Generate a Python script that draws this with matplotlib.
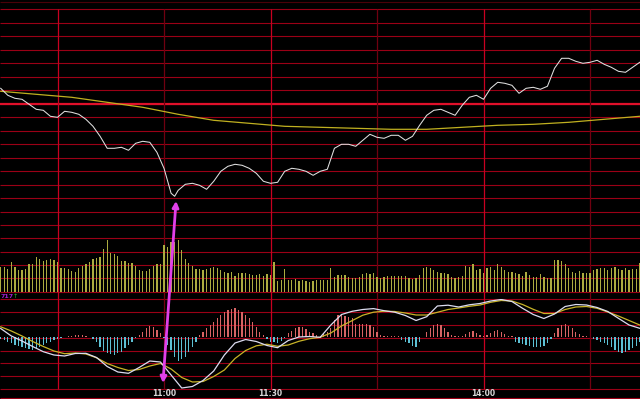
import numpy as np
import matplotlib
matplotlib.use('Agg')
from matplotlib import pyplot as plt
from matplotlib.patches import ConnectionPatch

# minute index 0 = 10:14, one bar per minute (16 -> 10:30, 46 -> 11:00 ...)
TIME_LABELS = ['11:00', '11:30', '14:00']
TIME_LABEL_MIN = [46, 76, 136]
BRIGHT_VLINES = [16, 76, 136]
DIM_VLINES = [46, 106, 166]

PREV_CLOSE = 10.00

price_min = list(range(0, 49, 2)) + [49] + list(range(50, 181, 2))
price = [10.15, 10.08, 10.05, 10.04, 9.99, 9.94, 9.93, 9.87, 9.86, 9.92,
         9.91, 9.89, 9.84, 9.77, 9.67, 9.55, 9.55, 9.56, 9.53, 9.60,
         9.62, 9.61, 9.51, 9.35, 9.10, 9.07, 9.13, 9.19, 9.20, 9.18,
         9.14, 9.22, 9.32, 9.37, 9.39, 9.38, 9.35, 9.30, 9.22, 9.20,
         9.21, 9.32, 9.35, 9.34, 9.32, 9.28, 9.32, 9.34, 9.55, 9.59,
         9.59, 9.57, 9.63, 9.69, 9.66, 9.65, 9.68, 9.68, 9.63, 9.67,
         9.78, 9.88, 9.93, 9.94, 9.91, 9.88, 9.98, 10.06, 10.08, 10.04,
         10.15, 10.21, 10.20, 10.18, 10.10, 10.15, 10.16, 10.14, 10.17, 10.35,
         10.45, 10.45, 10.42, 10.40, 10.41, 10.43, 10.39, 10.36, 10.32, 10.31,
         10.36, 10.41]

avg_min = list(range(0, 181, 10))
avg_price = [10.12, 10.09, 10.06, 10.01, 9.96, 9.89, 9.83, 9.80, 9.77, 9.76,
             9.75, 9.74, 9.74, 9.76, 9.78, 9.79, 9.81, 9.84, 9.87]

volume = [2440, 2500, 2240, 2940, 2500, 2170, 2170, 2240, 2740, 2740,
          3440, 3240, 3070, 3170, 3240, 3170, 3000, 2400, 2340, 2240,
          2070, 1940, 2400, 2570, 2740, 2940, 3240, 3400, 3440, 4270,
          5170, 3900, 3740, 3570, 3100, 3100, 2840, 2840, 2570, 2170,
          2100, 2070, 2240, 2600, 2740, 2820, 4670, 4440, 4970, 5000,
          5170, 4170, 3240, 2900, 2570, 2240, 2240, 2170, 2240, 2340,
          2440, 2340, 2170, 2000, 1840, 1940, 1600, 1900, 1840, 1900,
          1740, 1670, 1670, 1740, 1600, 1770, 1670, 2940, 1070, 1170,
          2240, 1170, 1170, 1270, 1100, 1170, 1070, 1000, 1070, 1170,
          1170, 1170, 1170, 2400, 1440, 1670, 1670, 1670, 1440, 1340,
          1400, 1500, 1770, 1840, 1770, 1840, 1440, 1340, 1440, 1570,
          1570, 1600, 1600, 1570, 1570, 1340, 1270, 1340, 1670, 2340,
          2440, 2400, 2170, 2000, 1900, 1840, 1770, 1440, 1340, 1500,
          1570, 2570, 2500, 2740, 2170, 2240, 1900, 2340, 2500, 2170,
          2740, 2500, 2170, 2000, 2000, 1840, 1770, 1570, 2000, 1670,
          1500, 1500, 1770, 1500, 1400, 1340, 3170, 3170, 3100, 2740,
          2340, 2000, 1900, 2070, 1840, 1840, 1900, 2170, 2240, 2400,
          2340, 2170, 2340, 2500, 2240, 2170, 2340, 2170, 2240, 2240, 2900]

macd_hist = [-0.027, -0.033, -0.050, -0.067, -0.083, -0.093, -0.100, -0.117, -0.127, -0.133,
             -0.117, -0.100, -0.083, -0.067, -0.050, -0.033, -0.027, -0.013, -0.007, 0.003,
             0.007, 0.017, 0.020, 0.017, 0.007, -0.007, -0.027, -0.050, -0.100, -0.140,
             -0.160, -0.173, -0.183, -0.167, -0.150, -0.117, -0.083, -0.050, -0.017, 0.017,
             0.050, 0.083, 0.107, 0.100, 0.067, 0.033, -0.010, -0.083, -0.133, -0.200,
             -0.243, -0.227, -0.200, -0.150, -0.100, -0.050, 0.017, 0.050, 0.083, 0.117,
             0.150, 0.183, 0.217, 0.250, 0.267, 0.277, 0.283, 0.267, 0.250, 0.217,
             0.183, 0.150, 0.100, 0.050, 0.017, -0.027, -0.050, -0.050, -0.060, -0.040,
             -0.017, 0.033, 0.060, 0.083, 0.100, 0.093, 0.073, 0.050, 0.033, 0.017,
             0.010, 0.033, 0.050, 0.083, 0.167, 0.217, 0.217, 0.207, 0.200, 0.183,
             0.127, 0.127, 0.127, 0.127, 0.117, 0.093, 0.050, 0.017, 0.007, 0.007,
             0.007, 0.007, 0.003, -0.033, -0.050, -0.067, -0.093, -0.100, -0.050, -0.003,
             0.050, 0.090, 0.117, 0.127, 0.117, 0.090, 0.050, 0.017, 0.003, 0.007,
             0.007, 0.027, 0.050, 0.060, 0.040, 0.017, 0.003, 0.017, 0.040, 0.060,
             0.067, 0.050, 0.027, 0.010, 0.003, -0.050, -0.067, -0.073, -0.083, -0.093,
             -0.100, -0.100, -0.100, -0.093, -0.067, -0.027, 0.033, 0.083, 0.117, 0.127,
             0.107, 0.083, 0.050, 0.027, 0.007, 0.003, -0.007, -0.027, -0.033, -0.050,
             -0.067, -0.083, -0.107, -0.133, -0.150, -0.160, -0.150, -0.133, -0.117, -0.093, -0.050]

macd_min = list(range(0, 181, 3))
dif = [0.082, 0.007, -0.043, -0.098, -0.150, -0.183, -0.193, -0.168, -0.166, -0.208,
       -0.298, -0.353, -0.366, -0.308, -0.243, -0.253, -0.383, -0.513, -0.498, -0.438,
       -0.343, -0.183, -0.063, -0.028, -0.048, -0.088, -0.110, -0.038, -0.003, 0.002,
       -0.006, 0.117, 0.222, 0.254, 0.272, 0.281, 0.260, 0.245, 0.212, 0.162,
       0.200, 0.307, 0.315, 0.297, 0.319, 0.332, 0.357, 0.372, 0.352, 0.284,
       0.222, 0.182, 0.227, 0.302, 0.322, 0.317, 0.292, 0.252, 0.184, 0.117, 0.084]
dea = [0.099, 0.057, 0.007, -0.048, -0.098, -0.143, -0.170, -0.163, -0.173, -0.211,
       -0.268, -0.308, -0.338, -0.328, -0.293, -0.268, -0.323, -0.408, -0.453, -0.448,
       -0.398, -0.333, -0.218, -0.138, -0.091, -0.075, -0.096, -0.083, -0.046, -0.020,
       -0.006, 0.037, 0.107, 0.161, 0.215, 0.245, 0.255, 0.252, 0.237, 0.217,
       0.217, 0.244, 0.272, 0.287, 0.304, 0.317, 0.344, 0.362, 0.357, 0.322,
       0.274, 0.232, 0.232, 0.272, 0.297, 0.302, 0.284, 0.247, 0.207, 0.162, 0.117]

# arrow drawn on the chart: from the DIF low to the price low
arrow_start = (45.7, -0.463)   # macd panel
arrow_end = (49.4, 9070)       # volume panel (just under price low)

W, H = 640, 399
XLIM = (-0.197, 180.08)
GRID = '#9a0016'

fig = plt.figure(figsize=(6.4, 3.99), dpi=100)
fig.patch.set_facecolor('black')


def panel(top, bottom):
    ax = fig.add_axes([0, (H - bottom) / H, 1, (bottom - top) / H])
    ax.set_facecolor('none')
    ax.set_xlim(*XLIM)
    ax.axis('off')
    return ax


# background grid in pixel rows
bg = panel(0, H)
bg.set_ylim(H, 0)
rows = list(9.3 + 13.5 * np.arange(15)) + list(198.3 + 13.34 * np.arange(1, 8)) \
    + list(299.3 + 12.81 * np.arange(8)) + [398.3]
bg.hlines(rows, *XLIM, colors=GRID, lw=0.8)
bg.hlines([1.5], *XLIM, colors='#4a0008', lw=0.8)
bg.hlines([103.8], *XLIM, colors='#e0102a', lw=1.6)
bg.vlines(BRIGHT_VLINES, 9.3, 389, colors='#c80020', lw=0.9)
bg.vlines(DIM_VLINES, 9.3, 389, colors='#700010', lw=0.9)
for m, lab in zip(TIME_LABEL_MIN, TIME_LABELS):
    bg.text(m, 394, lab, color='#d8d8d8', fontsize=5.5, fontweight='bold',
            ha='center', va='center')
bg.text(0.1, 296, '717', color='#a020d0', fontsize=4.5, fontweight='bold',
        ha='left', va='center')
bg.text(3.4, 296, '\u2191', color='#30c030', fontsize=4.5, ha='left', va='center')

# price panel
ax_p = panel(9.3, 198.3)
ax_p.set_ylim(PREV_CLOSE - 0.95, PREV_CLOSE + 0.94)
ax_p.plot(avg_min, avg_price, color='#c0b020', lw=0.9)
ax_p.plot(price_min, price, color='#e0e0e0', lw=0.75)

# volume panel
ax_v = panel(198.3, 291.7)
ax_v.set_ylim(0, 9340)
ax_v.bar(range(len(volume)), volume, width=0.36, color='#acac40', linewidth=0)

# macd panel
ax_m = panel(299.3, 389)
ax_m.set_ylim(-0.523, 0.374)
hist = np.array(macd_hist)
ax_m.bar(range(len(hist)), hist, width=0.36, linewidth=0,
         color=np.where(hist >= 0, '#d86464', '#5cc0d4'))
ax_m.plot(macd_min, dea, color='#c8b428', lw=0.9)
ax_m.plot(macd_min, dif, color='#dcdcf0', lw=0.9)

con = ConnectionPatch(xyA=arrow_start, coordsA=ax_m.transData,
                      xyB=arrow_end, coordsB=ax_v.transData,
                      arrowstyle='<|-|>,head_length=0.35,head_width=0.18',
                      color='#e040e8', lw=2.0, zorder=10)
fig.add_artist(con)

fig.savefig('out.png', dpi=100, facecolor='black')
